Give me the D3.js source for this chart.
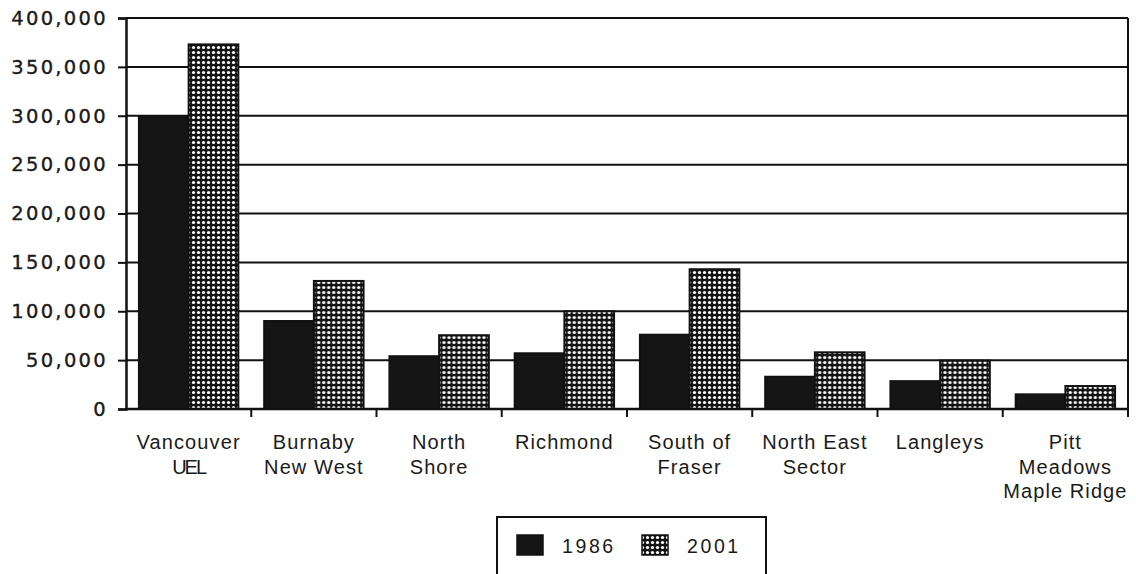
<!DOCTYPE html>
<html>
<head>
<meta charset="utf-8">
<script src="https://cdn.jsdelivr.net/npm/d3@7"></script>
<style>
  html, body { margin: 0; padding: 0; background: #fff; }
  svg { display: block; }
</style>
</head>
<body>
<svg id="chart" width="1136" height="574"></svg>
<script>
// Population by sub-region, 1986 vs 2001
const categories = [
  ["Vancouver", "UEL"],
  ["Burnaby", "New West"],
  ["North", "Shore"],
  ["Richmond"],
  ["South of", "Fraser"],
  ["North East", "Sector"],
  ["Langleys"],
  ["Pitt", "Meadows", "Maple Ridge"]
];
const seriesNames = ["1986", "2001"];
const values1986 = [299000, 90000, 54000, 57000, 76000, 33000, 28500, 15000];
const values2001 = [373000, 131000, 75500, 100000, 143000, 58000, 49500, 23500];
const yTicks = [0, 50000, 100000, 150000, 200000, 250000, 300000, 350000, 400000];

const svg = d3.select("#chart");
const margin = { left: 126, right: 8, top: 18, bottom: 165 };
const W = 1136, H = 574;
const x0 = margin.left, x1 = W - margin.right;
const yTop = margin.top, yBot = H - margin.bottom;

const defs = svg.append("defs");
const pat = defs.append("pattern")
  .attr("id", "dots").attr("patternUnits", "userSpaceOnUse")
  .attr("width", 5).attr("height", 5);
pat.append("rect").attr("width", 5).attr("height", 5).attr("fill", "#141414");
pat.append("circle").attr("cx", 2.5).attr("cy", 2.5).attr("r", 1.6).attr("fill", "#fff");

const x = d3.scaleBand().domain(d3.range(categories.length)).range([x0, x1]).paddingInner(0).paddingOuter(0);
const inner = d3.scaleBand().domain(seriesNames).range([0, x.bandwidth()]).paddingInner(0).paddingOuter(0.26);
const y = d3.scaleLinear().domain([0, 400000]).range([yBot, yTop]);

// gridlines
svg.append("g").selectAll("line").data(yTicks.slice(1)).join("line")
  .attr("x1", x0).attr("x2", x1)
  .attr("y1", d => y(d)).attr("y2", d => y(d))
  .attr("stroke", "#111").attr("stroke-width", 2);

// right border
svg.append("line").attr("x1", x1).attr("x2", x1).attr("y1", yTop).attr("y2", yBot)
  .attr("stroke", "#111").attr("stroke-width", 2);

// bars
const fills = { "1986": "#151515", "2001": "url(#dots)" };
const groups = svg.append("g").selectAll("g").data(categories.map((c, i) => i)).join("g")
  .attr("transform", i => `translate(${x(i)},0)`);
groups.selectAll("rect").data(i => [
  { s: "1986", v: values1986[i] },
  { s: "2001", v: values2001[i] }
]).join("rect")
  .attr("x", d => inner(d.s))
  .attr("width", inner.bandwidth())
  .attr("y", d => y(d.v))
  .attr("height", d => y(0) - y(d.v))
  .attr("fill", d => fills[d.s])
  .attr("stroke", "#111").attr("stroke-width", 2);

// y axis
const yAxis = svg.append("g").attr("transform", `translate(${x0},0)`)
  .call(d3.axisLeft(y).tickValues(yTicks).tickSize(8).tickPadding(10).tickFormat(d3.format(",")));
yAxis.select(".domain").attr("stroke", "#111").attr("stroke-width", 2.5);
yAxis.selectAll(".tick line").attr("stroke", "#111").attr("stroke-width", 2);
yAxis.selectAll(".tick text")
  .attr("font-family", "DejaVu Sans, sans-serif").attr("font-size", 19.5)
  .attr("letter-spacing", "2.3px").attr("fill", "#1a1a1a")
  .attr("stroke", "#1a1a1a").attr("stroke-width", 0.35);

// x axis
svg.append("line").attr("x1", x0).attr("x2", x1).attr("y1", yBot).attr("y2", yBot)
  .attr("stroke", "#111").attr("stroke-width", 2.5);
svg.append("g").selectAll("line").data(d3.range(1, categories.length + 1)).join("line")
  .attr("x1", i => x0 + i * x.bandwidth()).attr("x2", i => x0 + i * x.bandwidth())
  .attr("y1", yBot).attr("y2", yBot + 8)
  .attr("stroke", "#111").attr("stroke-width", 2);

// category labels
const labels = svg.append("g").selectAll("text").data(categories).join("text")
  .attr("x", (d, i) => x(i) + x.bandwidth() / 2)
  .attr("y", 449)
  .attr("text-anchor", "middle")
  .attr("font-family", "Liberation Sans, Arial, sans-serif")
  .attr("font-size", 20)
  .attr("letter-spacing", "1.1px")
  .attr("fill", "#1a1a1a");
labels.selectAll("tspan").data(d => d).join("tspan")
  .attr("x", function () { return this.parentNode.getAttribute("x"); })
  .attr("dy", (d, i) => i === 0 ? 0 : 24.5)
  .attr("letter-spacing", d => d === "UEL" ? "-2px" : null)
  .text(d => d);

// legend
const lg = svg.append("g");
lg.append("rect").attr("x", 497).attr("y", 517).attr("width", 269).attr("height", 80)
  .attr("fill", "#fff").attr("stroke", "#111").attr("stroke-width", 2);
const legendX = [517, 642];
seriesNames.forEach((s, i) => {
  lg.append("rect").attr("x", legendX[i]).attr("y", 535).attr("width", 26).attr("height", 20)
    .attr("fill", fills[s]).attr("stroke", "#111").attr("stroke-width", 1.5);
  lg.append("text").attr("x", legendX[i] + 45).attr("y", 553)
    .attr("font-family", "Liberation Sans, Arial, sans-serif").attr("font-size", 19.5)
    .attr("letter-spacing", "2.6px").attr("fill", "#1a1a1a").text(s);
});
</script>
</body>
</html>
